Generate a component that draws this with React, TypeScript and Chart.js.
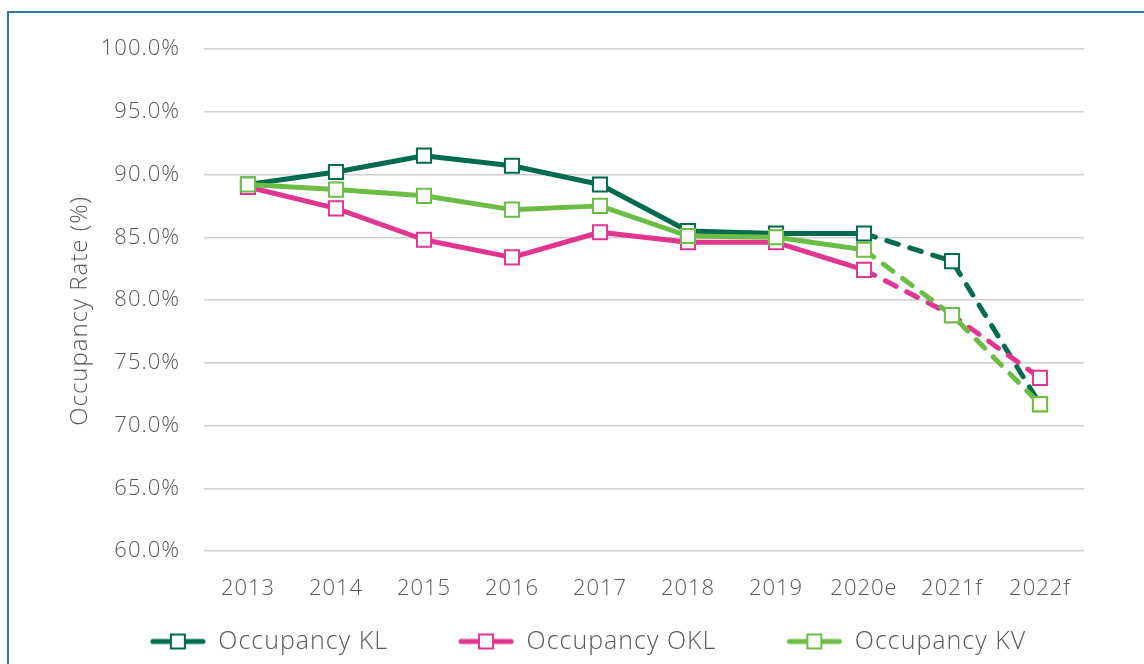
import React, { useEffect, useRef } from 'react';
import { Chart, registerables } from 'chart.js';

Chart.register(...registerables);

const categories = ['2013', '2014', '2015', '2016', '2017', '2018', '2019', '2020e', '2021f', '2022f'];
const occupancyKL = [89.2, 90.2, 91.5, 90.7, 89.2, 85.5, 85.3, 85.3, 83.1, 71.7];
const occupancyOKL = [89.0, 87.3, 84.8, 83.4, 85.4, 84.6, 84.6, 82.4, 78.8, 73.8];
const occupancyKV = [89.2, 88.8, 88.3, 87.2, 87.5, 85.1, 85.0, 84.0, 78.8, 71.7];
const seriesNames = ['Occupancy KL', 'Occupancy OKL', 'Occupancy KV'];
const seriesColors = ['#006B4D', '#E23590', '#6CBD45'];
const yMin = 60;
const yMax = 100;
const yStep = 5;
const forecastStart = 7; // index of 2020e: dashed from here on
const yTitle = 'Occupancy Rate (%)   ';

const FONT = '"Open Sans", "Liberation Sans", sans-serif';
const WEIGHT = 300;
const TEXT = '#595959';
const GAP = 60;
const SPACING = '1px';

function makeLegendIcon(color: string) {
  const c = document.createElement('canvas');
  c.width = GAP + 56;
  c.height = 18;
  const g = c.getContext('2d')!;
  g.strokeStyle = color;
  g.lineWidth = 5;
  g.lineCap = 'round';
  g.beginPath();
  g.moveTo(GAP + 3, 9);
  g.lineTo(GAP + 53, 9);
  g.stroke();
  g.fillStyle = '#ffffff';
  g.fillRect(GAP + 21, 2, 14, 14);
  g.lineWidth = 2;
  g.strokeRect(GAP + 21, 2, 14, 14);
  return c;
}

const spacingPlugin = {
  id: 'letterSpacing',
  beforeLayout(chart: any) { chart.ctx.letterSpacing = SPACING; },
  beforeDraw(chart: any) { chart.ctx.letterSpacing = SPACING; },
};

export default function App() {
  const ref = useRef<HTMLCanvasElement | null>(null);

  useEffect(() => {
    const series = [occupancyKL, occupancyOKL, occupancyKV];
    const icons = seriesColors.map(makeLegendIcon);
    const chart = new Chart(ref.current!, {
      type: 'line',
      data: {
        labels: categories,
        datasets: series.map((d, i) => ({
          label: seriesNames[i],
          data: d,
          borderColor: seriesColors[i],
          backgroundColor: '#ffffff',
          borderWidth: 5,
          borderCapStyle: 'round',
          borderJoinStyle: 'round',
          pointStyle: 'rect',
          pointRadius: 10,
          pointHoverRadius: 10,
          pointBorderWidth: 2,
          pointBackgroundColor: '#ffffff',
          pointBorderColor: seriesColors[i],
          tension: 0,
          order: 3 - i,
          segment: {
            borderDash: (ctx: any) => (ctx.p0DataIndex >= forecastStart ? [12, 12] : undefined),
          },
        })),
      },
      plugins: [spacingPlugin],
      options: {
        animation: false,
        responsive: false,
        maintainAspectRatio: false,
        layout: { padding: { left: 32, right: 60, top: 49, bottom: 0 } },
        plugins: {
          tooltip: { enabled: false },
          legend: {
            position: 'bottom',
            labels: {
              usePointStyle: true,
              pointStyleWidth: GAP + 56,
              padding: 10,
              color: TEXT,
              font: { family: FONT, size: 25, weight: WEIGHT },
              sort: (a: any, b: any) => a.datasetIndex - b.datasetIndex,
              generateLabels: (ch: any) => {
                const items = (Chart as any).defaults.plugins.legend.labels.generateLabels(ch);
                return items.map((it: any) => ({ ...it, pointStyle: icons[it.datasetIndex], fontColor: TEXT }));
              },
            },
          },
        },
        scales: {
          x: {
            offset: true,
            grid: { display: false, drawTicks: false, offset: true },
            border: { display: false },
            ticks: { color: TEXT, font: { family: FONT, size: 22, weight: WEIGHT }, padding: 25 },
            afterFit: (s: any) => { s.height = 68; },
          },
          y: {
            min: yMin,
            max: yMax,
            grid: { color: '#D0D0D0', lineWidth: 1.5, drawTicks: false },
            border: { display: false },
            ticks: {
              stepSize: yStep,
              color: TEXT,
              font: { family: FONT, size: 22, weight: WEIGHT },
              padding: 24,
              callback: (v: any) => Number(v).toFixed(1) + '%',
            },
            title: {
              display: true,
              text: yTitle,
              color: TEXT,
              font: { family: FONT, size: 24, weight: WEIGHT },
              padding: { top: 34, bottom: 0 },
            },
            afterFit: (s: any) => { s.width = 172; },
          },
        },
      },
    } as any);
    return () => chart.destroy();
  }, []);

  return (
    <div style={{ position: 'fixed', left: 0, top: 0, width: 1144, height: 664, overflow: 'hidden', background: '#ffffff' }}>
      <div
        style={{
          position: 'absolute',
          left: 7,
          top: 11,
          width: 1200,
          height: 720,
          border: '2px solid #2E75B6',
          boxSizing: 'border-box',
        }}
      />
      <canvas ref={ref} width={1144} height={664} style={{ position: 'absolute', left: 0, top: 0, width: 1144, height: 664 }} />
    </div>
  );
}
